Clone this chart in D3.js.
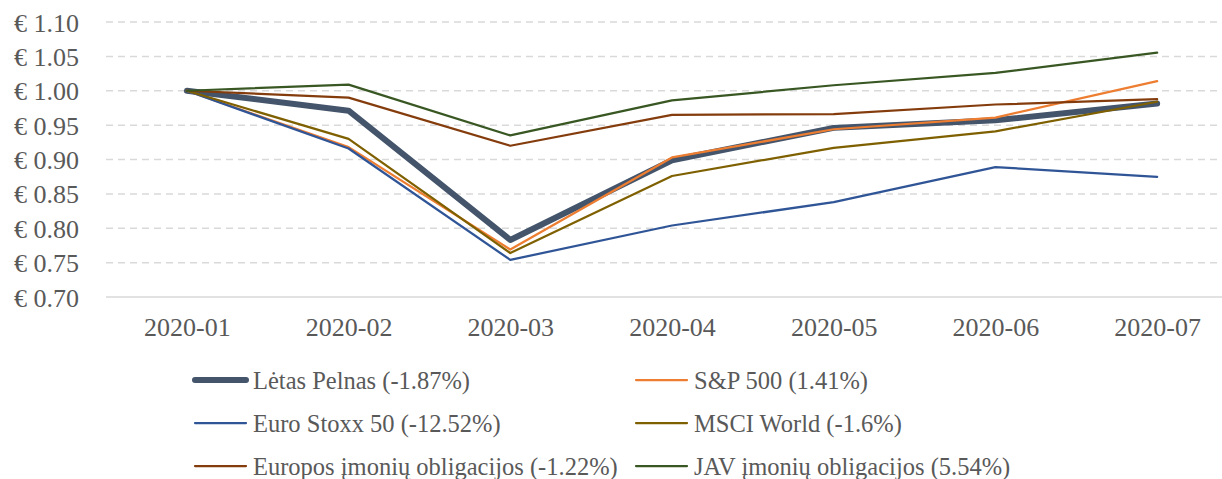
<!DOCTYPE html>
<html>
<head>
<meta charset="utf-8">
<script src="https://cdn.jsdelivr.net/npm/d3@7"></script>
<style>
html,body{margin:0;padding:0;background:#fff;}
svg{display:block;}
text{font-family:"Liberation Serif","Times New Roman",serif;fill:#595959;}
</style>
</head>
<body>
<svg id="chart" width="1222" height="479"></svg>
<script>
const months = ["2020-01","2020-02","2020-03","2020-04","2020-05","2020-06","2020-07"];
const yTicks = [0.70,0.75,0.80,0.85,0.90,0.95,1.00,1.05,1.10];

const letasPelnas   = [1.000, 0.971, 0.783, 0.899, 0.946, 0.957, 0.9813];
const sp500         = [1.000, 0.918, 0.769, 0.903, 0.944, 0.961, 1.0141];
const euroStoxx50   = [1.000, 0.916, 0.754, 0.804, 0.838, 0.889, 0.8748];
const msciWorld     = [1.000, 0.930, 0.764, 0.876, 0.917, 0.941, 0.984];
const europosOblig  = [1.000, 0.990, 0.920, 0.965, 0.966, 0.980, 0.9878];
const javOblig      = [1.000, 1.009, 0.935, 0.986, 1.008, 1.026, 1.0554];

const seriesNames = [
  "Lėtas Pelnas (-1.87%)",
  "S&P 500 (1.41%)",
  "Euro Stoxx 50 (-12.52%)",
  "MSCI World (-1.6%)",
  "Europos įmonių obligacijos (-1.22%)",
  "JAV įmonių obligacijos (5.54%)"
];
const seriesValues = [letasPelnas, sp500, euroStoxx50, msciWorld, europosOblig, javOblig];
const seriesColors = ["#44546A","#ED7D31","#2F5597","#7F6000","#843C0C","#385723"];
const seriesWidths = [6, 2.25, 2.25, 2.25, 2.25, 2.25];

const svg = d3.select("#chart");

const plotLeft = 106, plotRight = 1238, plotTop = 22, plotBottom = 297;
const x = d3.scalePoint().domain(months).range([plotLeft, plotRight]).padding(0.5);
const y = d3.scaleLinear().domain([0.70, 1.10]).range([plotBottom, plotTop]);

// gridlines
svg.append("g").selectAll("line")
  .data(yTicks.filter(d => d > 0.70))
  .join("line")
  .attr("x1", plotLeft).attr("x2", plotRight)
  .attr("y1", d => y(d)).attr("y2", d => y(d))
  .attr("stroke", "#d9d9d9").attr("stroke-width", 1.5)
  .attr("stroke-dasharray", "7,5");

// x axis line
svg.append("line")
  .attr("x1", plotLeft).attr("x2", plotRight)
  .attr("y1", y(0.70)).attr("y2", y(0.70))
  .attr("stroke", "#d9d9d9").attr("stroke-width", 1.5);

// y axis labels
const yAxis = d3.axisLeft(y).tickValues(yTicks).tickSize(0).tickPadding(0)
  .tickFormat(d => "€ " + d3.format(".2f")(d));
const gy = svg.append("g").attr("transform", "translate(79,0)").call(yAxis);
gy.select(".domain").remove();
gy.selectAll("text").attr("font-size", 26).attr("fill", "#595959")
  .style("font-family", '"Liberation Serif",serif').attr("dy", "0.35em");

// x axis labels
const xAxis = d3.axisBottom(x).tickSize(0).tickPadding(0);
const gx = svg.append("g").attr("transform", "translate(0,336)").call(xAxis);
gx.select(".domain").remove();
gx.selectAll("text").attr("font-size", 26).attr("fill", "#595959")
  .style("font-family", '"Liberation Serif",serif').attr("dy", 0);

// lines
const line = d3.line().x((d, i) => x(months[i])).y(d => y(d));
svg.append("g").selectAll("path")
  .data(seriesValues)
  .join("path")
  .attr("d", d => line(d))
  .attr("fill", "none")
  .attr("stroke", (d, i) => seriesColors[i])
  .attr("stroke-width", (d, i) => seriesWidths[i])
  .attr("stroke-linejoin", "round")
  .attr("stroke-linecap", "round");

// legend
const legendCols = [195, 636];
const legendRows = [380, 423, 466];
const lg = svg.append("g");
seriesNames.forEach((name, i) => {
  const cx = legendCols[i % 2], cy = legendRows[Math.floor(i / 2)];
  lg.append("line")
    .attr("x1", cx).attr("x2", cx + 51)
    .attr("y1", cy).attr("y2", cy)
    .attr("stroke", seriesColors[i])
    .attr("stroke-width", seriesWidths[i])
    .attr("stroke-linecap", "round");
  lg.append("text")
    .attr("x", cx + 58).attr("y", cy)
    .attr("dy", "0.35em")
    .attr("font-size", 24.5)
    .text(name);
});
</script>
</body>
</html>
